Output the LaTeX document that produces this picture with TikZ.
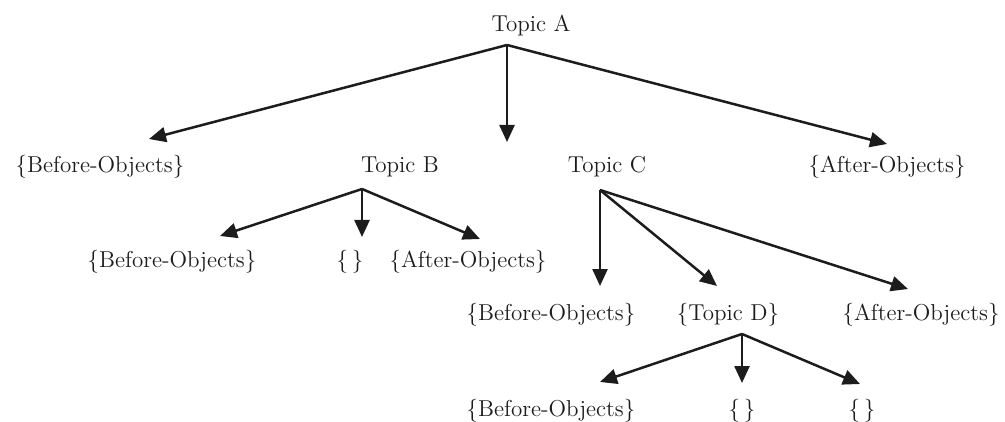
\documentclass[tikz,border=0pt]{standalone}
\usetikzlibrary{arrows.meta}
\definecolor{ink}{HTML}{1C1C1C}
\begin{document}
\begin{tikzpicture}[x=0.5pt,y=-0.5pt,
  label/.style={anchor=base,inner sep=0pt,text=ink,font=\fontsize{11.5}{13.5}\selectfont},
  arr/.style={draw=ink,line width=1.25pt,-{Triangle[length=8.5pt,width=7.5pt]}}]
\useasboundingbox (0,0) rectangle (1005,422);

% labels
\node[label] (tA) at (531,31.5) {Topic A};

\node[label] (bo1) at (100,173) {\{Before-Objects\}};
\node[label] (tB)  at (400,173) {Topic B};
\node[label] (tC)  at (607,173) {Topic C};
\node[label] (ao1) at (887,173) {\{After-Objects\}};

\node[label] (bo2) at (172,267) {\{Before-Objects\}};
\node[label] (e1)  at (350,267) {\{\,\}};
\node[label] (ao2) at (468,267) {\{After-Objects\}};

\node[label] (bo3) at (551,320) {\{Before-Objects\}};
\node[label] (tD)  at (728,320) {\{Topic D\}};
\node[label] (ao3) at (921,320) {\{After-Objects\}};

\node[label] (bo4) at (551,416) {\{Before-Objects\}};
\node[label] (e2)  at (742,416) {\{\,\}};
\node[label] (e3)  at (862,416) {\{\,\}};

% branch points below each topic
\coordinate (tA-out) at (507,45);
\coordinate (tB-out) at (362,189);
\coordinate (tC-out) at (600,190);
\coordinate (tD-out) at (742,334);

% arrow ends above each child
\coordinate (bo1-in) at (149,139);
\coordinate (mid-in) at (507,142);
\coordinate (ao1-in) at (887,144);
\coordinate (bo2-in) at (220,236);
\coordinate (e1-in)  at (362,237);
\coordinate (ao2-in) at (480,239);
\coordinate (bo3-in) at (600,286);
\coordinate (tD-in)  at (717,286);
\coordinate (ao3-in) at (908,289);
\coordinate (bo4-in) at (600,382);
\coordinate (e2-in)  at (742,383);
\coordinate (e3-in)  at (860,384);

% connectors
\draw[arr] (tA-out) -- (bo1-in);
\draw[arr] (tA-out) -- (mid-in);
\draw[arr] (tA-out) -- (ao1-in);

\draw[arr] (tB-out) -- (bo2-in);
\draw[arr] (tB-out) -- (e1-in);
\draw[arr] (tB-out) -- (ao2-in);

\draw[arr] (tC-out) -- (bo3-in);
\draw[arr] (tC-out) -- (tD-in);
\draw[arr] (tC-out) -- (ao3-in);

\draw[arr] (tD-out) -- (bo4-in);
\draw[arr] (tD-out) -- (e2-in);
\draw[arr] (tD-out) -- (e3-in);
\end{tikzpicture}
\end{document}
